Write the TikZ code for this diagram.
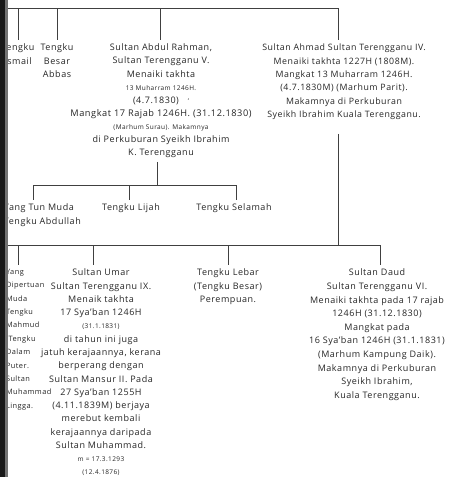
\documentclass[tikz,border=0pt]{standalone}
\usepackage{fontspec}
\setmainfont{Open Sans}[LetterSpace=6]
\begin{document}
\begin{tikzpicture}[x=1pt,y=-1pt,
  txt/.style={inner sep=0pt, outer sep=4pt, align=center, text=black!85, anchor=north,
    font=\fontsize{9}{13.3}\selectfont},
  txtl/.style={txt, align=left, anchor=north west},
  sm/.style={font=\fontsize{7.4}{13.4}\selectfont},
  ln/.style={draw=black!75, line width=0.8pt}]
\useasboundingbox[fill=white] (0,0) rectangle (450,477);
\newcommand{\smx}[1]{{\fontsize{6.5}{10}\selectfont #1}}

% generation 1
\node[txt] (ismail) at (18,40) {Tengku\\Ismail};
\node[txt] (abbas) at (57,40) {Tengku\\Besar\\Abbas};
\node[txt, font=\fontsize{9}{13.1}\selectfont] (rahman) at (161,40) {Sultan Abdul Rahman,\\Sultan Terengganu V.\\Menaiki takhta\\\smx{13 Muharram 1246H.}\\(4.7.1830)\quad\smx{'}\\{\fontsize{9.2}{13.1}\selectfont Mangkat 17 Rajab 1246H. (31.12.1830)}\\\smx{(Marhum Surau). Makamnya}\\di Perkuburan Syeikh Ibrahim\\K. Terengganu};
\node[txt, font=\fontsize{8.8}{13.4}\selectfont] (ahmad) at (344,40) {Sultan Ahmad Sultan Terengganu IV.\\Menaiki takhta 1227H (1808M).\\Mangkat 13 Muharram 1246H.\\(4.7.1830M) (Marhum Parit).\\Makamnya di Perkuburan\\Syeikh Ibrahim Kuala Terengganu.};

\coordinate (tl) at (0,8);
\coordinate (tr) at (338,8);
\draw[ln] (tl) -- (tr) -- (tr |- ahmad.north);
\draw[ln] (ismail.north |- tl) -- (ismail.north);
\draw[ln] (abbas.north |- tl) -- (abbas.north);
\draw[ln] (160,8) coordinate (rt) -- (rt |- rahman.north);

% children of Abdul Rahman
\node[txtl] (abdullah) at (0,200) {Yang Tun Muda\\Tengku Abdullah};
\node[txt] (lijah) at (131,200) {Tengku Lijah};
\node[txt] (selamah) at (234,200) {Tengku Selamah};
\coordinate (rj) at (157,185);
\coordinate (rl) at (33,185);
\coordinate (rr) at (236,185);
\draw[ln] (rahman.south -| rj) -- (rj);
\draw[ln] (rl) -- (rr);
\draw[ln] (rl) -- (rl |- abdullah.north);
\draw[ln] (129,185) coordinate (lj) -- (lj |- lijah.north);
\draw[ln] (rr) -- (rr |- selamah.north);

% children of Ahmad
\coordinate (aj) at (338,245);
\coordinate (al) at (0,245);
\coordinate (ar) at (380,245);
\node[txtl, sm] (mahmud) at (2,265) {Yang\\Dipertuan\\Muda\\Tengku\\Mahmud\\(Tengku\\Dalam\\Puter.\\Sultan\\Muhammad\\Lingga.};
\node[txt, font=\fontsize{9}{13.27}\selectfont] (umar) at (101,265) {Sultan Umar\\Sultan Terengganu IX.\\Menaik takhta\\17 Sya'ban 1246H\\\smx{(31.1.1831)}\\di tahun ini juga\\jatuh kerajaannya, kerana\\berperang dengan\\Sultan Mansur II. Pada\\27 Sya'ban 1255H\\(4.11.1839M) berjaya\\merebut kembali\\kerajaannya daripada\\Sultan Muhammad.\\\smx{m = 17.3.1293}\\\smx{(12.4.1876)}};
\node[txt] (lebar) at (228,265) {Tengku Lebar\\(Tengku Besar)\\Perempuan.};
\node[txt, font=\fontsize{9}{13.6}\selectfont] (daud) at (377,265) {Sultan Daud\\Sultan Terengganu VI.\\Menaiki takhta pada 17 rajab\\1246H (31.12.1830)\\Mangkat pada\\16 Sya'ban 1246H (31.1.1831)\\(Marhum Kampung Daik).\\Makamnya di Perkuburan\\Syeikh Ibrahim,\\Kuala Terengganu.};

\draw[ln] (ahmad.south -| aj) ++(0,10) -- (aj);
\draw[ln] (al) -- (ar);
\draw[ln] (18,245) coordinate (mj) -- (mj |- mahmud.north);
\draw[ln] (93,245) coordinate (uj) -- (uj |- umar.north);
\draw[ln] (lebar.north |- al) -- (lebar.north);
\draw[ln] (ar) -- (ar |- daud.north);

% dark binding edge of the scan
\fill[black!55] (0,0) rectangle (7.5,477);
\fill[black!90] (0,0) rectangle (5,477);
\end{tikzpicture}
\end{document}
